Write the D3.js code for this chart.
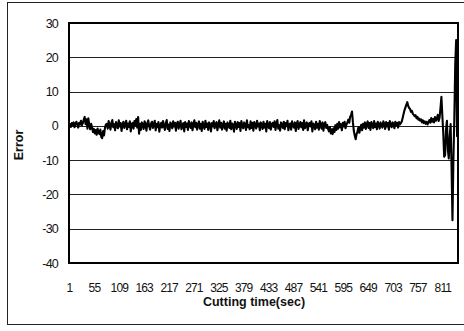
<!DOCTYPE html>
<html>
<head>
<meta charset="utf-8">
<script src="https://cdn.jsdelivr.net/npm/d3@7"></script>
<style>
  body { margin: 0; background: #fff; }
  svg { display: block; font-family: "Liberation Sans", Arial, sans-serif; }
</style>
</head>
<body>
<div id="chart"></div>
<script>
// error values, read every 2 sec (1, 3, 5 ... 845)
var errorValues = [
  0,0.5,-0.3,0.8,0.2,1.0,-0.4,0.6,1.2,0.3,-0.5,0.9,0.4,1.5,0.2,
  0.8,1.8,2.6,0.5,1.9,-0.8,2.2,0.3,-1.0,0.6,
  -0.5,-1.8,-0.9,-2.2,-1.2,-2.6,-0.8,-1.9,-2.4,-1.1,-3.2,-3.6,-1.5,-2.8,-0.6,0.4,
  0.6,-0.8,1.4,0.2,-1.1,0.9,1.7,-0.4,0.5,-1.3,
  1.1,0.3,-0.7,1.6,-0.2,0.8,-1.5,0.4,1.2,-0.6,
  0.2,1.5,-1.0,0.7,-0.3,1.3,-1.6,0.5,0.9,-0.8,
  1.4,0.1,2.0,-0.5,2.6,-2.3,0.6,-1.2,1.0,0.3,
  -0.9,1.3,0.4,-1.4,0.8,1.6,-0.2,-1.1,0.7,1.2,
  -0.6,0.3,1.5,-1.3,0.6,-0.4,1.1,-1.7,0.2,0.9,
  -0.5,1.4,0.0,-1.2,0.8,1.7,-0.9,0.4,-1.5,1.0,
  0.5,-0.7,1.3,-0.2,0.9,-1.4,0.6,1.2,-0.8,0.3,
  1.5,-1.0,0.2,0.8,-1.6,1.1,-0.3,0.7,-1.2,1.4,
  0.1,-0.6,1.0,-1.3,0.5,1.6,-0.4,0.9,-1.1,0.4,
  1.3,-0.8,0.6,-1.5,1.2,0.0,-0.9,1.5,-0.3,0.7,
  -1.2,1.0,0.3,-1.6,0.8,-0.2,1.4,-0.7,0.5,1.1,
  -1.3,0.4,1.6,-0.5,0.9,-1.1,0.2,1.3,-0.8,0.6,
  -1.4,1.0,0.1,-0.6,1.5,-1.0,0.7,0.3,-1.7,1.2,
  0.4,-0.9,1.1,-0.3,0.8,-1.5,1.4,0.0,-0.7,1.0,
  0.5,-1.2,1.6,-0.4,0.2,-1.0,1.3,-0.6,0.9,-1.4,
  1.1,0.3,-0.8,1.5,-0.2,0.7,-1.3,1.0,0.4,-0.9,
  1.2,-0.5,0.6,-1.6,1.4,0.1,-0.7,1.1,-1.1,0.5,
  0.9,-0.3,1.3,-1.2,0.6,1.7,-0.8,0.2,-1.4,1.0,
  0.3,-0.6,1.2,-1.0,0.8,-0.1,1.5,-1.3,0.4,0.7,
  -1.1,1.3,0.0,-0.5,1.0,-1.5,0.6,1.4,-0.9,0.2,
  1.1,-0.4,0.8,-1.2,1.6,-0.7,0.3,1.0,-1.3,0.5,
  0.9,-0.2,1.3,-1.6,0.7,0.2,-1.0,1.2,-0.5,0.6,
  -1.1,1.4,0.1,-0.8,1.0,-1.4,0.5,1.1,-0.6,0.3,
  -0.9,-1.6,-0.4,-2.2,-1.0,-2.4,-0.7,-1.8,0.2,-1.2,
  0.6,-0.8,1.1,-0.4,0.5,-1.3,0.9,-0.2,1.2,-0.7,
  0.4,1.0,1.8,0.9,2.6,3.2,4.2,1.0,-1.5,-2.8,-3.9,-2.4,
  -1.6,-0.4,-2.0,-0.8,0.3,-1.3,0.6,-0.5,
  1.0,-0.9,0.4,1.3,-0.6,0.8,-1.2,1.1,0.2,-0.7,
  1.4,-0.3,0.7,-1.0,1.2,0.4,-0.8,1.0,0.1,-0.5,
  1.3,0.5,-0.9,1.1,-0.2,0.8,-1.1,1.4,0.3,-0.4,
  1.0,0.6,-0.7,1.2,0.2,0.9,-0.5,1.1,0.4,0.8,
  1.3,2.4,3.5,4.6,5.4,6.2,6.9,
  5.8,5.2,4.9,4.1,4.4,3.5,3.2,2.8,3.1,2.2,2.6,1.8,2.1,
  1.5,1.9,1.0,1.6,0.8,1.3,0.6,1.2,0.4,1.1,
  1.7,0.9,2.3,1.2,2.0,1.0,2.6,1.5,2.1,3.2,1.4,2.4,
  5.2,8.5,3.0,-2.0,-9.0,-8.5,-1.0,1.5,-7.0,-9.5,-3.0,0.5,-12.0,-27.5,-10.0,2.0,18.0,25.0,-3.0,-1.0
];
var timeSec = errorValues.map(function(v, i) { return 1 + i * 2; });
var xTickLabels = [1, 55, 109, 163, 217, 271, 325, 379, 433, 487, 541, 595, 649, 703, 757, 811];
var yTicks = [30, 20, 10, 0, -10, -20, -30, -40];

var W = 464, H = 331;
var margin = { top: 23, right: 6, bottom: 68, left: 69 };
var innerW = W - margin.left - margin.right,
    innerH = H - margin.top - margin.bottom;

var svg = d3.select("#chart").append("svg")
  .attr("width", W)
  .attr("height", H);

// outer chart border
svg.append("rect")
  .attr("x", 7.5).attr("y", 2.5)
  .attr("width", 460).attr("height", 322)
  .attr("fill", "none")
  .attr("stroke", "#222")
  .attr("stroke-width", 1);

var g = svg.append("g")
  .attr("transform", "translate(" + margin.left + "," + margin.top + ")");

var x = d3.scaleLinear().domain([1, 845]).range([0, innerW]);
var y = d3.scaleLinear().domain([-40, 30]).range([innerH, 0]);

// gridlines
g.selectAll(".grid")
  .data(yTicks)
  .enter().append("line")
  .attr("class", "grid")
  .attr("x1", 0).attr("x2", innerW)
  .attr("y1", function(d) { return Math.round(y(d)) + 0.5; })
  .attr("y2", function(d) { return Math.round(y(d)) + 0.5; })
  .attr("stroke", "#222")
  .attr("stroke-width", 1);

// y axis labels
var yAxis = d3.axisLeft(y).tickValues(yTicks).tickSize(0).tickPadding(11)
  .tickFormat(function(d) { return String(d); });
g.append("g").call(yAxis)
  .call(function(s) { s.select(".domain").remove(); })
  .selectAll("text")
  .attr("font-size", 12.5)
  .attr("letter-spacing", -0.8)
  .attr("fill", "#111");

// x axis labels
var xAxis = d3.axisBottom(x).tickValues(xTickLabels).tickSize(0).tickPadding(20)
  .tickFormat(function(d) { return String(d); });
g.append("g").attr("transform", "translate(0," + innerH + ")").call(xAxis)
  .call(function(s) { s.select(".domain").remove(); })
  .selectAll("text")
  .attr("font-size", 12)
  .attr("letter-spacing", -0.9)
  .attr("fill", "#111");

// error line
var line = d3.line()
  .x(function(d, i) { return x(timeSec[i]); })
  .y(function(d) { return y(d); });

g.append("path")
  .datum(errorValues)
  .attr("d", line)
  .attr("fill", "none")
  .attr("stroke", "#000")
  .attr("stroke-width", 2.1)
  .attr("stroke-linejoin", "round");

// plot border
g.append("rect")
  .attr("x", 0).attr("y", 0)
  .attr("width", innerW).attr("height", innerH)
  .attr("fill", "none")
  .attr("stroke", "#000")
  .attr("stroke-width", 2);

// axis titles
svg.append("text")
  .attr("x", 254).attr("y", 306)
  .attr("text-anchor", "middle")
  .attr("font-size", 12.5)
  .attr("font-weight", "bold")
  .attr("fill", "#111")
  .text("Cutting time(sec)");

svg.append("text")
  .attr("transform", "translate(23,145) rotate(-90)")
  .attr("text-anchor", "middle")
  .attr("font-size", 12.5)
  .attr("font-weight", "bold")
  .attr("fill", "#111")
  .text("Error");
</script>
</body>
</html>
